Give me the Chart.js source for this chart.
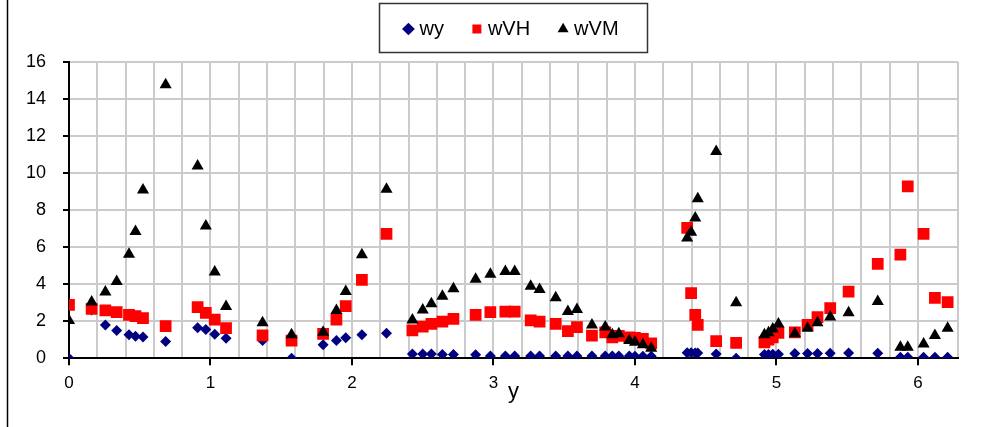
<!DOCTYPE html>
<html>
<head>
<meta charset="utf-8">
<script src="https://cdn.jsdelivr.net/npm/chart.js@4.4.1/dist/chart.umd.min.js"></script>
<style>
  html, body { margin: 0; padding: 0; background: #fff; }
</style>
</head>
<body>
<canvas id="myChart" width="984" height="427"></canvas>
<script>
// positions along y (0..2pi)
const yPos = [0, 0.16, 0.257, 0.337, 0.424, 0.47, 0.523, 0.683, 0.909, 0.967, 1.03, 1.11,
  1.368, 1.573, 1.796, 1.89, 1.956, 2.07, 2.244, 2.427, 2.50, 2.561, 2.639, 2.717,
  2.874, 2.978, 3.084, 3.15, 3.263, 3.326, 3.44, 3.526, 3.59, 3.696, 3.79, 3.84,
  3.886, 3.96, 4.0, 4.056, 4.115, 4.369, 4.397, 4.426, 4.444, 4.574, 4.715, 4.915,
  4.944, 4.974, 5.014, 5.13, 5.22, 5.29, 5.38, 5.51, 5.716, 5.876, 5.928, 6.04, 6.12, 6.21];

const wy = [0, 2.6, 1.8, 1.5, 1.26, 1.19, 1.14, 0.9, 1.64, 1.55, 1.3, 1.08,
  0.95, 0, 0.72, 0.95, 1.1, 1.26, 1.35, 0.23, 0.23, 0.23, 0.2, 0.2,
  0.18, 0.12, 0.12, 0.12, 0.12, 0.12, 0.12, 0.12, 0.12, 0.12, 0.12, 0.12,
  0.12, 0.12, 0.1, 0.1, 0.1, 0.3, 0.3, 0.28, 0.28, 0.23, 0, 0.2,
  0.2, 0.22, 0.22, 0.25, 0.25, 0.25, 0.27, 0.28, 0.27, 0.05, 0.05, 0.05, 0.05, 0.05];

const wVH = [2.88, 2.67, 2.58, 2.49, 2.34, 2.27, 2.16, 1.73, 2.76, 2.45, 2.09, 1.62,
  1.23, 0.95, 1.32, 2.09, 2.81, 4.23, 6.72, 1.5, 1.71, 1.86, 1.98, 2.13,
  2.34, 2.49, 2.52, 2.52, 2.04, 1.98, 1.86, 1.46, 1.68, 1.22, 1.4, 1.13,
  1.2, 1.13, 1.1, 1.05, 0.8, 7.04, 3.51, 2.34, 1.8, 0.92, 0.83, 0.86,
  1.0, 1.13, 1.37, 1.4, 1.8, 2.22, 2.7, 3.6, 5.1, 5.59, 9.28, 6.72, 3.26, 3.03];

const wVM = [2.04, 3.03, 3.57, 4.14, 5.62, 6.85, 9.08, 14.77, 10.38, 7.14, 4.65, 2.79,
  1.91, 1.26, 1.4, 2.58, 3.6, 5.59, 9.12, 2.07, 2.61, 2.94, 3.35, 3.75,
  4.27, 4.54, 4.68, 4.68, 3.89, 3.71, 3.26, 2.52, 2.63, 1.8, 1.68, 1.26,
  1.32, 0.95, 0.86, 0.72, 0.54, 6.49, 6.81, 7.57, 8.61, 11.17, 2.99, 1.26,
  1.37, 1.58, 1.85, 1.32, 1.62, 1.91, 2.22, 2.45, 3.06, 0.59, 0.59, 0.77, 1.22, 1.62];

const xTickLabels = [0, 1, 2, 3, 4, 5, 6];
const yTickLabels = [0, 2, 4, 6, 8, 10, 12, 14, 16];

function toPoints(vals) {
  return yPos.map((x, i) => ({ x: x, y: vals[i] }));
}

function isLabelTick(v) {
  return xTickLabels.some(t => Math.abs(t - v) < 1e-6);
}

// move the legend over the plot centre, draw its box and the left frame line
const framePlugin = {
  id: 'frame',
  afterUpdate(chart) {
    const lg = chart.legend;
    lg.left += 30; lg.right += 30;
    lg.top -= 13; lg.bottom -= 13;
  },
  afterDraw(chart) {
    const c = chart.ctx;
    c.save();
    c.strokeStyle = '#000';
    c.lineWidth = 1.5;
    c.beginPath();
    c.moveTo(7.5, 0);
    c.lineTo(7.5, 427);
    c.stroke();

    const lg = chart.legend;
    const cx = (lg.left + lg.right) / 2;
    c.strokeStyle = '#333';
    c.lineWidth = 1.5;
    c.strokeRect(Math.round(cx - 134) + 0.5, 3.5, 268, 49);
    c.restore();
  }
};

const ctx = document.getElementById('myChart');

const myChart = new Chart(ctx, {
  type: 'scatter',
  data: {
    datasets: [
      {
        label: 'wy',
        data: toPoints(wy),
        pointStyle: 'rectRot',
        pointRadius: 5.5,
        backgroundColor: '#000080',
        borderColor: '#000080',
        borderWidth: 0,
        order: 3
      },
      {
        label: 'wVH',
        data: toPoints(wVH),
        pointStyle: 'rect',
        pointRadius: 8.3,
        backgroundColor: '#ff0000',
        borderColor: '#ff0000',
        borderWidth: 0,
        order: 2
      },
      {
        label: 'wVM',
        data: toPoints(wVM),
        pointStyle: 'triangle',
        pointRadius: 7,
        backgroundColor: '#000000',
        borderColor: '#000000',
        borderWidth: 0,
        order: 1
      }
    ]
  },
  options: {
    responsive: false,
    animation: false,
    layout: {
      autoPadding: false,
      padding: { left: 8, right: 26, top: 0, bottom: 0 }
    },
    plugins: {
      tooltip: { enabled: false },
      legend: {
        position: 'top',
        labels: {
          usePointStyle: true,
          boxWidth: 2,
          boxHeight: 9,
          padding: 32,
          color: '#000',
          font: { family: 'Liberation Sans, Arial, sans-serif', size: 20 },
          sort: (a, b) => a.datasetIndex - b.datasetIndex
        }
      }
    },
    scales: {
      x: {
        type: 'linear',
        min: 0,
        max: 2 * Math.PI,
        grid: {
          color: '#cbcbcb',
          lineWidth: 2,
          tickLength: 7,
          tickColor: (c) => (c.tick && isLabelTick(c.tick.value)) ? '#000' : 'rgba(0,0,0,0)'
        },
        border: { color: '#000', width: 2 },
        ticks: {
          stepSize: 0.2,
          autoSkip: false,
          maxRotation: 0,
          padding: 8,
          color: '#000',
          font: { family: 'Liberation Sans Narrow, Liberation Sans, Arial, sans-serif', size: 17 },
          callback: (v) => isLabelTick(v) ? String(Math.round(v)) : ''
        },
        title: {
          display: true,
          text: 'y',
          color: '#000',
          font: { family: 'Liberation Sans, Arial, sans-serif', size: 22 },
          padding: { top: -23, bottom: 22 }
        }
      },
      y: {
        min: 0,
        max: 16,
        grid: {
          color: '#cbcbcb',
          lineWidth: 2,
          tickLength: 6,
          tickColor: '#000'
        },
        border: { color: '#000', width: 2 },
        ticks: {
          stepSize: 2,
          padding: 17,
          color: '#000',
          font: { family: 'Liberation Sans, Arial, sans-serif', size: 18 },
          callback: (v) => yTickLabels.includes(v) ? String(v) : ''
        },
        afterFit: (scale) => { scale.width = 61; }
      }
    }
  },
  plugins: [framePlugin]
});
</script>
</body>
</html>
